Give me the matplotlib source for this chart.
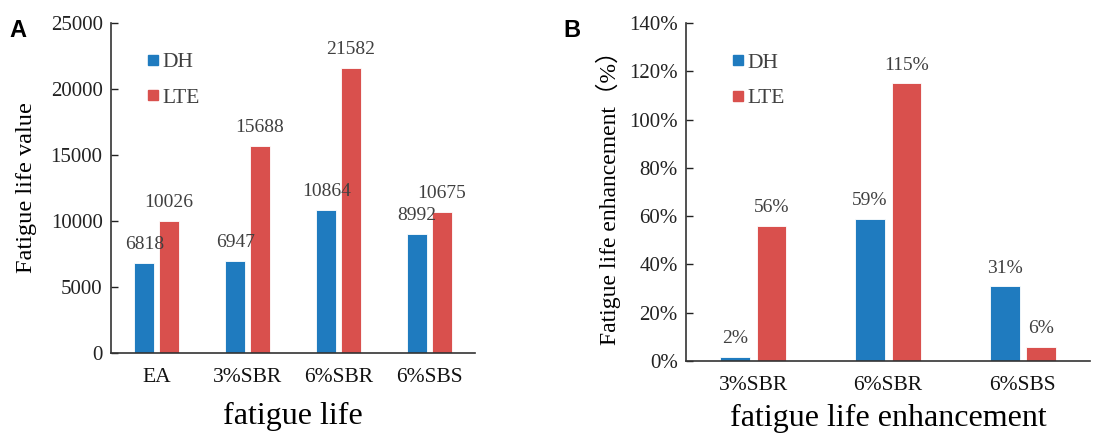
import numpy as np
import matplotlib.pyplot as plt
from matplotlib.lines import Line2D
from matplotlib.ticker import PercentFormatter

# panel A data
life_cats = ["EA", "3%SBR", "6%SBR", "6%SBS"]
life_dh = [6818, 6947, 10864, 8992]
life_lte = [10026, 15688, 21582, 10675]

# panel B data
enh_cats = ["3%SBR", "6%SBR", "6%SBS"]
enh_dh = [0.017, 0.59, 0.31]
enh_lte = [0.56, 1.15, 0.06]

BLUE = "#1f7bbf"
RED = "#d9504d"
SERIF = ["Liberation Serif", "Noto Sans CJK SC", "DejaVu Sans"]
LABEL_GRAY = "#404040"

plt.rcParams['font.family'] = SERIF


def style_axes(ax):
    for side in ("top", "right"):
        ax.spines[side].set_visible(False)
    for side in ("left", "bottom"):
        ax.spines[side].set_color("#333333")
        ax.spines[side].set_linewidth(1.2)
    ax.tick_params(axis="y", direction="in", length=5, width=1, labelsize=15, colors="#222222", pad=6)
    ax.tick_params(axis="x", length=0, labelsize=15.5, pad=11, colors="#111111")


def draw_bars(ax, cats, dh, lte, fmt, anchor):
    x = np.arange(len(cats))
    w = 0.22
    off = 0.135
    b1 = ax.bar(x - off, dh, w, color=BLUE, edgecolor="white", linewidth=0.6)
    b2 = ax.bar(x + off, lte, w, color=RED, edgecolor="white", linewidth=0.6)
    for bars, vals in ((b1, dh), (b2, lte)):
        for b, v in zip(bars, vals):
            ax.annotate(fmt(v), (b.get_x() + b.get_width() / 2, v),
                        xytext=(0, 7), textcoords="offset points",
                        ha="center", va="bottom", fontsize=14, color=LABEL_GRAY)
    ax.set_xticks(x)
    ax.set_xticklabels(cats)
    ax.set_xlim(-0.5, len(cats) - 0.5)
    handles = [Line2D([], [], marker="s", linestyle="", markersize=7, color=BLUE),
               Line2D([], [], marker="s", linestyle="", markersize=7, color=RED)]
    ax.legend(handles, ["DH", "LTE"], frameon=False, fontsize=15.5,
              handlelength=0.6, handletextpad=0.15, labelspacing=0.72,
              labelcolor=LABEL_GRAY, loc="upper left", bbox_to_anchor=anchor)


fig = plt.figure(figsize=(11.2, 4.34), dpi=100)

axA = fig.add_axes([0.0991, 0.187, 0.325, 0.760])
draw_bars(axA, life_cats, life_dh, life_lte, lambda v: f"{v}", (0.045, 0.97))
axA.set_ylim(0, 25000)
axA.set_yticks(np.arange(0, 25001, 5000))
axA.set_ylabel("Fatigue life value", fontsize=17.5, labelpad=10)
axA.set_xlabel("fatigue life", fontsize=23, labelpad=11)
style_axes(axA)

axB = fig.add_axes([0.6125, 0.168, 0.361, 0.779])
draw_bars(axB, enh_cats, enh_dh, enh_lte, lambda v: f"{v:.0%}", (0.065, 0.97))
axB.set_ylim(0, 1.4)
axB.set_yticks(np.arange(0, 1.41, 0.2))
axB.yaxis.set_major_formatter(PercentFormatter(1.0, decimals=0))
axB.set_ylabel("Fatigue life enhancement（%）", fontsize=17, labelpad=6)
axB.set_xlabel("fatigue life enhancement", fontsize=23, labelpad=6)
style_axes(axB)

fig.text(0.008, 0.915, "A", fontsize=17, fontweight="bold", family="Liberation Sans")
fig.text(0.503, 0.915, "B", fontsize=17, fontweight="bold", family="Liberation Sans")

fig.savefig("out.png", dpi=100)
